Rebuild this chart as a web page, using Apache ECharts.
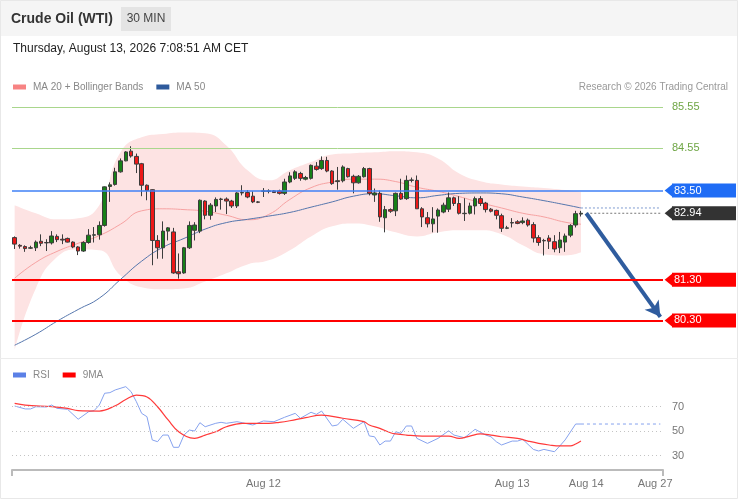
<!DOCTYPE html>
<html>
<head>
<meta charset="utf-8">
<script src="https://cdn.jsdelivr.net/npm/echarts@6/dist/echarts.min.js"></script>
<style>
html, body { margin: 0; padding: 0; background: #fff; }
#chart { width: 738px; height: 500px; }
</style>
</head>
<body>
<div id="chart"></div>
<script>
// 30 min candles, [open, close, low, high]
var candles = [
  [82.34,82.18,82.06,82.37],[82.15,82.13,82.07,82.18],[82.12,82.07,81.99,82.15],[82.08,82.09,82.06,82.14],
  [82.09,82.23,82.01,82.27],[82.25,82.20,82.13,82.42],[82.22,82.21,82.01,82.30],[82.21,82.38,82.17,82.50],
  [82.37,82.29,82.23,82.42],[82.30,82.28,82.18,82.42],[82.32,82.23,82.22,82.34],[82.23,82.11,82.08,82.25],
  [82.11,82.01,81.91,82.13],[82.01,82.22,81.99,82.25],[82.22,82.40,82.19,82.55],[82.40,82.41,82.22,82.60],
  [82.41,82.64,82.29,82.74],[82.64,83.59,82.61,83.60],[83.60,83.64,83.22,83.70],[83.65,83.96,83.62,84.06],
  [83.96,84.23,83.94,84.29],[84.23,84.45,84.22,84.47],[84.47,84.35,84.31,84.59],[84.34,84.15,83.93,84.41],
  [84.16,83.63,83.36,84.18],[83.63,83.50,83.26,83.65],[83.52,82.27,81.66,83.53],[82.27,82.09,81.82,82.40],
  [82.09,82.50,81.82,82.74],[82.50,82.58,82.27,82.60],[82.48,81.47,81.45,82.58],[81.50,81.45,81.33,81.95],
  [81.47,82.09,81.45,82.11],[82.09,82.64,82.06,82.74],[82.52,82.65,82.27,82.72],[82.50,83.26,82.45,83.28],
  [83.24,82.89,82.79,83.26],[82.89,83.14,82.78,83.19],[83.12,83.28,82.97,83.33],[83.28,83.29,83.03,83.32],
  [83.29,83.24,82.92,83.33],[83.24,83.12,83.07,83.27],[83.12,83.44,83.07,83.46],[83.44,83.45,83.38,83.63],
  [83.45,83.34,83.31,83.51],[83.36,83.22,83.19,83.48],[83.22,83.21,83.19,83.24],[83.49,83.48,83.34,83.56],
  [83.48,83.49,83.43,83.53],[83.49,83.45,83.44,83.51],[83.49,83.43,83.40,83.52],[83.43,83.71,83.39,83.79],
  [83.71,83.86,83.68,83.95],[83.80,83.96,83.76,84.00],[83.92,83.80,83.74,83.96],[83.78,83.82,83.75,83.86],
  [83.80,84.12,83.77,84.14],[84.10,84.02,83.99,84.20],[84.04,84.24,84.01,84.34],[84.24,83.98,83.95,84.33],
  [83.98,83.67,83.64,84.00],[83.72,83.74,83.52,84.08],[83.74,84.08,83.70,84.12],[84.04,83.84,83.82,84.06],
  [83.85,83.69,83.43,83.89],[83.69,83.85,83.67,83.88],[83.84,84.04,83.82,84.08],[84.04,83.43,83.38,84.06],
  [83.39,83.44,83.22,83.55],[83.43,82.85,82.73,83.50],[82.83,83.03,82.47,83.12],[83.03,82.99,82.95,83.06],
  [83.00,83.43,82.87,83.45],[83.43,83.29,83.27,83.79],[83.30,83.75,83.27,83.87],[83.75,83.76,83.70,83.82],
  [83.75,83.05,83.05,83.87],[83.05,82.85,82.60,83.09],[82.83,82.68,82.59,82.97],[82.68,82.80,82.47,83.09],
  [82.87,83.02,82.46,83.06],[82.97,83.14,82.94,83.20],[83.04,83.32,82.97,83.45],[83.32,83.18,83.12,83.35],
  [83.18,82.94,82.91,83.36],[82.93,82.94,82.75,83.31],[82.94,83.12,82.91,83.20],[83.12,83.30,82.91,83.35],
  [83.30,83.18,83.12,83.36],[83.19,83.03,82.96,83.22],[83.04,82.99,82.96,83.07],[83.01,82.89,82.79,83.03],
  [82.88,82.57,82.48,82.93],[82.57,82.58,82.55,82.63],[82.70,82.71,82.59,82.82],[82.73,82.69,82.67,82.77],
  [82.71,82.75,82.67,82.84],[82.77,82.65,82.61,82.81],[82.66,82.33,82.22,82.72],[82.34,82.22,82.14,82.40],
  [82.27,82.26,81.90,82.31],[82.33,82.25,82.06,82.40],[82.24,82.06,81.98,82.40],[82.09,82.28,81.96,82.48],
  [82.23,82.38,81.99,82.44],[82.40,82.64,82.35,82.67],[82.65,82.93,82.59,83.00],[82.92,82.94,82.86,83.00]
];

// indicator readings, taken every 4 candles
var maIdx   = [0,4,8,12,16,20,24,28,32,36,40,44,48,52,56,60,64,68,72,76,80,84,88,92,96,100,104,107];
var ma20    = [81.34,81.73,82.00,82.20,82.39,82.67,83.00,83.05,83.03,82.99,82.89,82.78,82.91,83.28,83.57,83.71,83.78,83.78,83.72,83.58,83.48,83.35,83.20,83.07,82.94,82.85,82.72,82.67];
var ma50    = [79.69,79.96,80.28,80.57,80.85,81.31,81.76,82.10,82.32,82.55,82.71,82.79,82.87,82.96,83.09,83.22,83.36,83.42,83.37,83.32,83.38,83.43,83.44,83.42,83.34,83.25,83.15,83.07];
var bbUpper = [83.14,82.94,82.79,82.82,83.14,84.44,84.81,84.89,84.93,84.91,84.61,84.00,83.75,84.00,84.20,84.39,84.42,84.44,84.47,84.44,84.29,83.92,83.73,83.65,83.60,83.56,83.51,83.46];
var bbLower = [79.57,81.09,81.86,82.05,82.03,81.41,81.12,81.07,81.09,81.26,81.46,81.68,81.78,82.03,82.37,82.62,82.69,82.62,82.47,82.37,82.47,82.52,82.52,82.42,82.15,81.93,81.90,81.98];

var rsiIdx = [0,2,3,4,6,7,8,10,12,14,15,16,17,18,19,21,22,23,24,25,26,27,28,29,30,31,32,33,34,35,36,38,39,40,42,43,45,47,49,51,53,54,56,57,58,60,61,62,64,66,67,68,69,70,71,72,73,74,75,76,78,80,82,83,85,87,89,90,91,92,94,95,96,98,99,100,102,103,104,106,107];
var rsi    = [70.4,68.0,68.0,69.8,69.6,71.2,68.5,67.7,59.6,65.8,66.6,71.2,80.8,81.3,83.5,86.2,82.1,73.9,64.4,61.7,42.7,41.3,46.7,46.7,36.7,36.7,46.7,50.8,50.0,56.8,53.5,56.3,57.1,56.3,57.6,56.8,54.9,58.2,57.6,61.2,64.4,60.4,65.3,63.6,66.3,54.1,54.9,59.6,52.2,57.6,46.0,45.3,38.6,41.8,41.8,49.4,48.1,54.1,54.1,44.0,39.9,44.0,50.2,46.7,44.5,51.4,46.7,45.3,41.3,38.6,41.8,41.8,43.2,35.0,33.7,35.0,33.1,37.8,42.7,55.7,55.7];
var rsiMaIdx = [0,2,7,10,12,16,19,21,23,25,27,29,31,34,36,38,40,43,48,50,52,55,58,62,66,67,69,71,72,74,77,82,84,86,88,90,92,95,97,99,101,103,105,106,107];
var rsiMa    = [72.6,71.2,69.8,68.5,66.6,66.3,70.6,75.7,79.2,77.8,69.8,59.0,49.4,44.0,46.7,49.4,53.5,56.3,56.3,57.1,58.4,60.9,63.0,60.4,57.6,54.9,52.2,48.6,47.6,46.7,45.9,45.9,44.0,45.9,47.6,46.7,45.3,44.0,41.8,39.9,38.6,37.8,37.8,39.4,41.8];
var rsiLevels = [70, 50, 30];

var slotCount  = 123;
var tickIdx    = [47, 94, 108, 121];
var tickLabels = ['Aug 12', 'Aug 13', 'Aug 14', 'Aug 27'];

var resistances = [85.55, 84.55];
var pivot = 83.50;
var supports = [81.30, 80.30];
var lastPrice = 82.94;
var arrowFrom = [108, 82.94];
var arrowTo   = [122, 80.39];

var slots = [];
for (var i = 0; i < slotCount; i++) slots.push(String(i));

function pairs(idx, vals) {
  return idx.map(function (x, k) { return [x, vals[k]]; });
}
var bandSpan = bbUpper.map(function (u, k) { return +(u - bbLower[k]).toFixed(2); });
var lastIdx = candles.length - 1;
var endIdx = slotCount - 1;

function fmt2(p) { return Number(p.value).toFixed(2); }

var boxLabel = function (bg) {
  return { backgroundColor: bg, color: '#fff', width: 62, lineHeight: 13, padding: [1, 0, 0, 2], align: 'left' };
};
var pointer = 'path://M0,6.5L8,0L8,13Z';

var levelLines = [];
resistances.forEach(function (v) {
  levelLines.push({ yAxis: v, lineStyle: { color: '#a9d68c', width: 1, type: 'solid' },
    label: { color: '#6ea544' } });
});
levelLines.push({ yAxis: pivot, lineStyle: { color: '#3f80f6', width: 1.5, type: 'solid' }, label: boxLabel('#1f6cf5') });
levelLines.push({ yAxis: lastPrice, lineStyle: { color: 'rgba(0,0,0,0)', width: 1 }, label: boxLabel('#333333') });
supports.forEach(function (v) {
  levelLines.push({ yAxis: v, lineStyle: { color: '#ff0000', width: 2, type: 'solid' }, label: boxLabel('#ff0000') });
});

var pointers = [
  { coord: [endIdx, pivot], itemStyle: { color: '#1f6cf5' } },
  { coord: [endIdx, lastPrice], itemStyle: { color: '#333333' } }
];
supports.forEach(function (v) { pointers.push({ coord: [endIdx, v], itemStyle: { color: '#ff0000' } }); });

var legendText = { color: '#888', fontSize: 10, padding: [0, 0, 0, 2] };

var chart = echarts.init(document.getElementById('chart'));

chart.setOption({
  animation: false,
  textStyle: { fontFamily: 'Liberation Sans, Arial, sans-serif' },
  graphic: [
    { type: 'rect', shape: { x: 0, y: 0, width: 738, height: 36 }, style: { fill: '#f5f5f5' }, z: -10 },
    { type: 'rect', shape: { x: 121, y: 7, width: 50, height: 24 }, style: { fill: '#e4e4e4' }, z: -9 },
    { type: 'rect', shape: { x: 0.5, y: 0.5, width: 737, height: 498 }, style: { fill: null, stroke: '#e8e8e8', lineWidth: 1 }, z: -8 },
    { type: 'line', shape: { x1: 0, y1: 358.5, x2: 738, y2: 358.5 }, style: { stroke: '#ececec', lineWidth: 1 }, z: -8 },
    { type: 'text', x: 11, y: 19, style: { text: 'Crude Oil (WTI)', font: 'bold 14px Liberation Sans', fill: '#333', textVerticalAlign: 'middle' } },
    { type: 'text', x: 146, y: 19, style: { text: '30 MIN', font: '12px Liberation Sans', fill: '#444', textAlign: 'center', textVerticalAlign: 'middle' } },
    { type: 'text', x: 13, y: 49, style: { text: 'Thursday, August 13, 2026 7:08:51 AM CET', font: '12px Liberation Sans', fill: '#222', textVerticalAlign: 'middle' } },
    { type: 'text', x: 728, y: 87, style: { text: 'Research \u00a9 2026 Trading Central', font: '10px Liberation Sans', fill: '#999', textAlign: 'right', textVerticalAlign: 'middle' } }
  ],
  legend: [
    { data: ['MA 20 + Bollinger Bands', 'MA 50'], left: 13, top: 82, padding: 0, icon: 'rect',
      itemWidth: 13, itemHeight: 5, itemGap: 13, selectedMode: false, textStyle: legendText },
    { data: ['RSI', '9MA'], left: 13, top: 370, padding: 0, icon: 'rect',
      itemWidth: 13, itemHeight: 5, itemGap: 13, selectedMode: false, textStyle: legendText }
  ],
  grid: [
    { left: 12, right: 75, top: 89, height: 268 },
    { left: 12, right: 75, top: 381, height: 89 }
  ],
  xAxis: [
    { type: 'category', gridIndex: 0, data: slots, boundaryGap: true,
      axisLine: { show: false }, axisTick: { show: false }, axisLabel: { show: false }, splitLine: { show: false } },
    { type: 'category', gridIndex: 1, data: slots, boundaryGap: true,
      axisLine: { lineStyle: { color: '#bbbbbb', width: 2 } },
      axisTick: { show: true, length: 6, interval: function (i) { return i === 0; }, lineStyle: { color: '#bbbbbb', width: 2 } },
      axisLabel: { color: '#777', fontSize: 11, margin: 8,
        interval: function (i) { return tickIdx.indexOf(i) >= 0; },
        formatter: function (v, i) { var k = tickIdx.indexOf(i); return k >= 0 ? tickLabels[k] : ''; } },
      splitLine: { show: false } }
  ],
  yAxis: [
    { type: 'value', gridIndex: 0, min: 79.4, max: 86.0, show: false },
    { type: 'value', gridIndex: 1, min: 18.2, max: 90.8, show: false }
  ],
  series: [
    { name: 'bbBase', type: 'line', data: pairs(maIdx, bbLower), stack: 'bb', smooth: true,
      symbol: 'none', silent: true, lineStyle: { opacity: 0 }, z: 1 },
    { name: 'bbFill', type: 'line', data: pairs(maIdx, bandSpan), stack: 'bb', smooth: true,
      symbol: 'none', silent: true, lineStyle: { opacity: 0 },
      areaStyle: { color: '#fde3e3', opacity: 1 }, z: 1 },
    { name: 'MA 20 + Bollinger Bands', type: 'line', data: pairs(maIdx, ma20), smooth: true,
      symbol: 'none', itemStyle: { color: '#f78383' }, lineStyle: { color: '#f7a2a2', width: 1 }, z: 2 },
    { name: 'MA 50', type: 'line', data: pairs(maIdx, ma50), smooth: true,
      symbol: 'none', itemStyle: { color: '#2e5a9c' }, lineStyle: { color: '#5576ad', width: 1 }, z: 2 },
    { name: 'ma50Ext', type: 'line', data: [[lastIdx, ma50[ma50.length - 1]], [endIdx, ma50[ma50.length - 1]]],
      symbol: 'none', silent: true, lineStyle: { color: '#7f9bd0', width: 1, type: [2, 2] }, z: 2 },
    { name: 'priceExt', type: 'line', data: [[lastIdx + 1, lastPrice], [endIdx, lastPrice]],
      symbol: 'none', silent: true, lineStyle: { color: '#777', width: 1, type: [2, 2] }, z: 2,
      markLine: { silent: true, symbol: ['none', 'arrow'], symbolSize: [13, 15], animation: false,
        lineStyle: { color: '#2f5c9e', width: 4, type: 'solid' }, label: { show: false },
        data: [[{ coord: arrowFrom }, { coord: arrowTo }]] },
      markPoint: { silent: true, symbol: pointer, symbolSize: [8, 13], symbolOffset: [8.3, 0],
        label: { show: false }, animation: false, data: pointers } },
    { name: 'WTI', type: 'candlestick', data: candles, barWidth: 4, z: 3,
      itemStyle: { color: '#178017', color0: '#ec1717', borderColor: '#3c3c3c', borderColor0: '#3c3c3c',
        borderColorDoji: '#3c3c3c', borderWidth: 1 },
      markLine: { silent: true, symbol: 'none', animation: false,
        label: { position: 'end', distance: 9, fontSize: 11, formatter: fmt2 },
        data: levelLines } },
    { name: 'RSI', type: 'line', xAxisIndex: 1, yAxisIndex: 1, data: pairs(rsiIdx, rsi),
      symbol: 'none', itemStyle: { color: '#5b80e6' }, lineStyle: { color: '#86a2ee', width: 1 }, z: 2,
      markLine: { silent: true, symbol: 'none', animation: false,
        lineStyle: { color: '#c4c4c4', width: 1, type: [1, 3] },
        label: { position: 'end', distance: 9, fontSize: 11, color: '#777', formatter: '{c}' },
        data: rsiLevels.map(function (v) { return { yAxis: v }; }) } },
    { name: 'rsiExt', type: 'line', xAxisIndex: 1, yAxisIndex: 1,
      data: [[lastIdx, rsi[rsi.length - 1]], [endIdx, rsi[rsi.length - 1]]],
      symbol: 'none', silent: true, lineStyle: { color: '#86a2ee', width: 1, type: [3, 3] }, z: 2 },
    { name: '9MA', type: 'line', xAxisIndex: 1, yAxisIndex: 1, data: pairs(rsiMaIdx, rsiMa), smooth: 0.4,
      symbol: 'none', itemStyle: { color: '#ff0000' }, lineStyle: { color: '#ff3a3a', width: 1.2 }, z: 3 }
  ]
});
</script>
</body>
</html>
